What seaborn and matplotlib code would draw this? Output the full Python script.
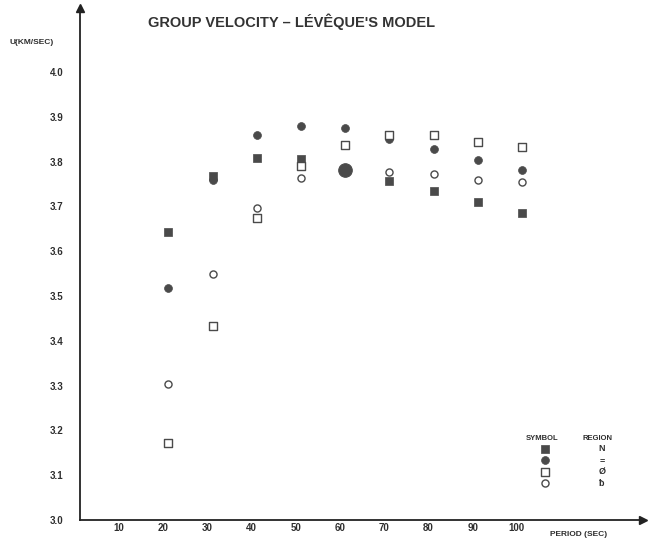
import numpy as np
import pandas as pd
import seaborn as sns
import matplotlib.pyplot as plt
from matplotlib.transforms import ScaledTranslation

# ---- data ----
periods = [20, 30, 40, 50, 60, 70, 80, 90, 100]
u_region_N = [3.643, 3.768, 3.808, 3.806, 3.781, 3.757, 3.734, 3.710, 3.685]      # filled square
u_region_eq = [3.518, 3.758, 3.859, 3.879, 3.875, 3.850, 3.828, 3.804, 3.781]     # filled circle
u_region_o = [3.172, 3.433, 3.674, 3.790, 3.837, 3.859, 3.859, 3.844, 3.833]      # open square
u_region_b = [3.304, 3.549, 3.696, 3.763, 3.781, 3.777, 3.772, 3.759, 3.754]      # open circle
coincident_period = [60]
coincident_u = [3.781]

y_ticks = [3.0, 3.1, 3.2, 3.3, 3.4, 3.5, 3.6, 3.7, 3.8, 3.9, 4.0]
x_ticks = [10, 20, 30, 40, 50, 60, 70, 80, 90, 100]
region_names = ["N", "=", "Ø", "ƀ"]

sns.set_style("white")
plt.rcParams['font.family'] = ['Liberation Sans', 'DejaVu Sans']

W, H = 649, 541
fig = plt.figure(figsize=(W / 100, H / 100), dpi=100)
ax = fig.add_axes([80 / W, (H - 520) / H, (643 - 80) / W, (520 - 8) / H])

dark = '#4a4a4a'
txt = '#2e2e2e'

series = [
    (u_region_N, 's', True, 28),
    (u_region_eq, 'o', True, 32),
    (u_region_o, 's', False, 26),
    (u_region_b, 'o', False, 26),
]
for vals, mk, filled, size in series:
    df = pd.DataFrame({"period": periods, "u": vals})
    if filled:
        sns.scatterplot(data=df, x="period", y="u", marker=mk, s=size,
                        color=dark, edgecolor=dark, linewidth=0.5, ax=ax, zorder=3)
    else:
        sns.scatterplot(data=df, x="period", y="u", marker=mk, s=size,
                        facecolor='white', edgecolor=dark, linewidth=1.0, ax=ax, zorder=4)

sns.scatterplot(x=coincident_period, y=coincident_u, marker='o', s=95,
                color=dark, edgecolor=dark, ax=ax, zorder=5)

ax.set_xlim(0, 127.4)
ax.set_ylim(3.0, 4.143)
ax.set_xticks(x_ticks)
ax.set_xticklabels([str(t) for t in x_ticks])
ax.set_yticks(y_ticks)
ax.set_yticklabels([f"{t:.1f}" for t in y_ticks])
ax.tick_params(axis='y', length=0, pad=12, labelsize=7, labelcolor=txt)
ax.tick_params(axis='x', length=0, pad=2, labelsize=7, labelcolor=txt)
for lab in ax.get_xticklabels() + ax.get_yticklabels():
    lab.set_fontweight('bold')
for lab in ax.get_xticklabels():
    lab.set_transform(lab.get_transform() + ScaledTranslation(-5 / 100, 0, fig.dpi_scale_trans))
ax.set_xlabel("")
ax.set_ylabel("")

for s in ['top', 'right']:
    ax.spines[s].set_visible(False)
for s in ['left', 'bottom']:
    ax.spines[s].set_color('#222222')
    ax.spines[s].set_linewidth(1.3)
ax.plot(1, 0, '>', color='#222222', ms=6, transform=ax.transAxes, clip_on=False)
ax.plot(0, 1, '^', color='#222222', ms=6, transform=ax.transAxes, clip_on=False)

fig.text(292 / W, 1 - 22 / H, "GROUP VELOCITY – LÉVÊQUE'S MODEL", ha='center', va='center',
         fontsize=10.5, fontweight='bold', color='#333333')
fig.text(10 / W, 1 - 43 / H, "U(KM/SEC)", ha='left', va='center',
         fontsize=6, fontweight='bold', color=txt)
fig.text(550 / W, 1 - 535 / H, "PERIOD (SEC)", ha='left', va='center',
         fontsize=6, fontweight='bold', color=txt)

# legend block
ax.text(0.821, 0.160, "SYMBOL", transform=ax.transAxes, ha='center', va='center',
        fontsize=5.5, fontweight='bold', color=txt)
ax.text(0.920, 0.160, "REGION", transform=ax.transAxes, ha='center', va='center',
        fontsize=5.5, fontweight='bold', color=txt)
key_y = [0.139, 0.117, 0.094, 0.072]
for (vals, mk, filled, size), ky, name in zip(series, key_y, region_names):
    if filled:
        ax.scatter([0.826], [ky], marker=mk, s=size, color=dark, edgecolor=dark,
                   linewidth=0.5, transform=ax.transAxes, clip_on=False)
    else:
        ax.scatter([0.826], [ky], marker=mk, s=size, facecolor='white', edgecolor=dark,
                   linewidth=1.0, transform=ax.transAxes, clip_on=False)
    ax.text(0.927, ky, name, transform=ax.transAxes, ha='center', va='center',
            fontsize=6.5, fontweight='bold', color=txt,
            family=['Liberation Sans', 'DejaVu Sans'])

fig.savefig("out.png", dpi=100, facecolor='white')
